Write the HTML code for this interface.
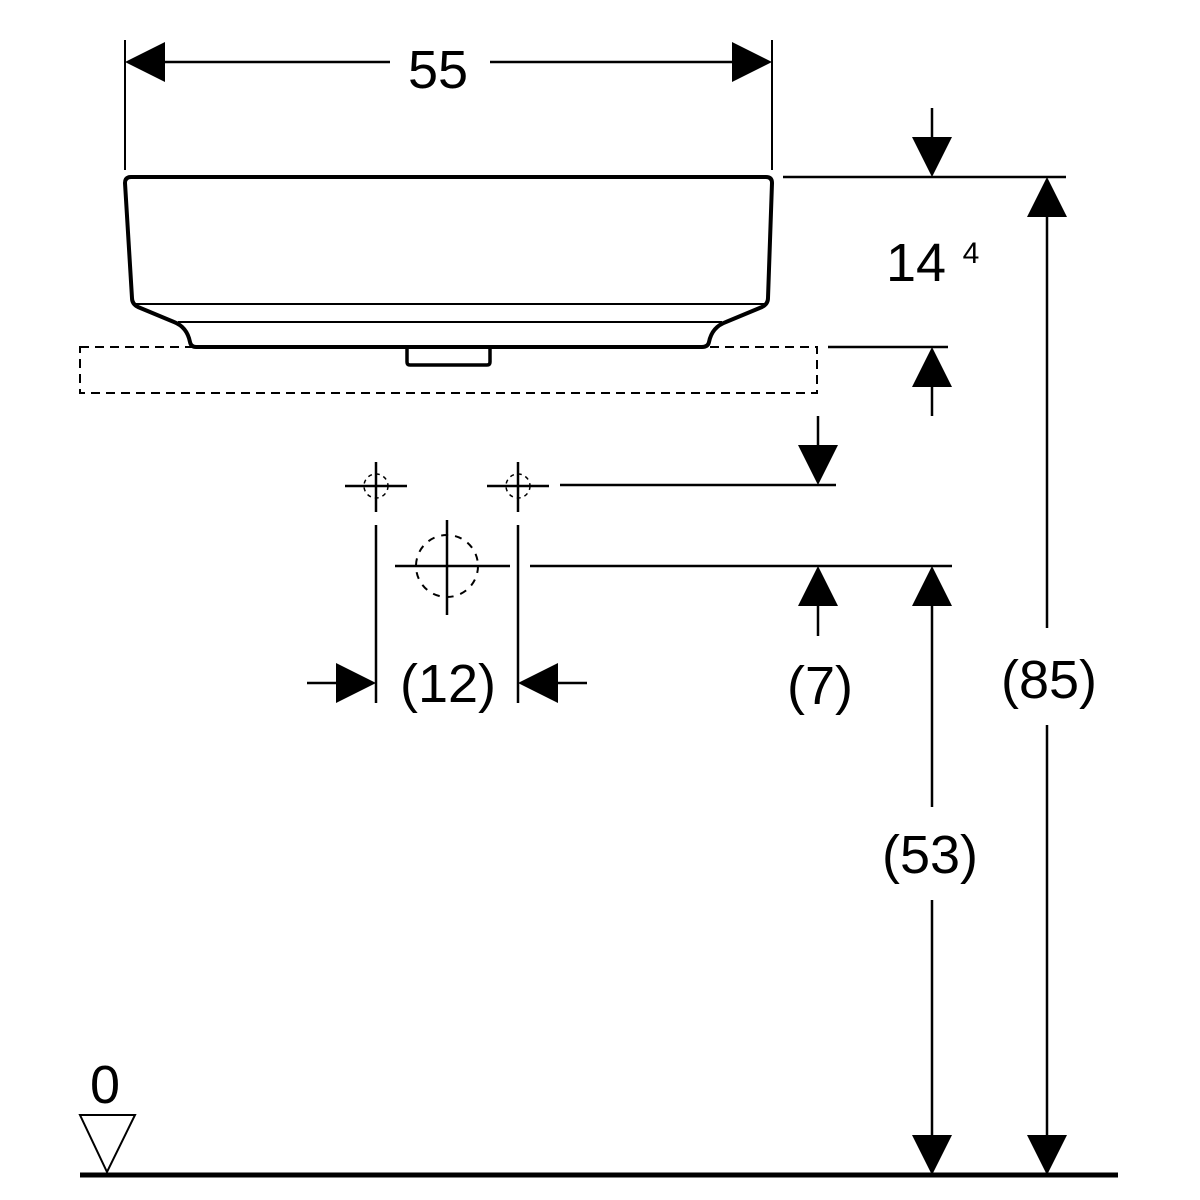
<!DOCTYPE html>
<html><head><meta charset="utf-8"><style>html,body{margin:0;padding:0;background:#fff}svg{display:block}</style></head>
<body>
<svg width="1200" height="1200" viewBox="0 0 1200 1200" xmlns="http://www.w3.org/2000/svg" font-family="Liberation Sans, Arial, sans-serif">
<g stroke="#000" fill="none" stroke-width="2.5">
<!-- basin -->
<path d="M131,177 L766,177 Q772,177 772,183 L768,298 Q768,304 762,307 L726,322 Q712,327 709,342 Q708,347 702,347 L196,347 Q191,347 190,342 Q187,327 174,322 L138,307 Q132,304 132,298 L125,183 Q125,177 131,177 Z" stroke-width="4"/>
<line x1="134" y1="304" x2="766" y2="304" stroke-width="2"/>
<line x1="178" y1="322" x2="722" y2="322" stroke-width="2"/>
<path d="M407,348 L407,362 Q407,365 410,365 L487,365 Q490,365 490,362 L490,348" stroke-width="3.5"/>
<rect x="80" y="347" width="737" height="46" stroke-dasharray="9,6" stroke-width="2"/>
<!-- 55 dimension -->
<line x1="125" y1="40" x2="125" y2="170" stroke-width="2"/>
<line x1="772" y1="40" x2="772" y2="170" stroke-width="2"/>
<line x1="160" y1="62" x2="390" y2="62"/>
<line x1="490" y1="62" x2="735" y2="62"/>
<!-- right ext lines -->
<line x1="783" y1="177" x2="1066" y2="177"/>
<line x1="828" y1="347" x2="948" y2="347"/>
<line x1="932" y1="108" x2="932" y2="140"/>
<line x1="932" y1="385" x2="932" y2="416"/>
<line x1="818" y1="416" x2="818" y2="448"/>
<line x1="560" y1="485" x2="836" y2="485"/>
<line x1="530" y1="566" x2="952" y2="566"/>
<line x1="818" y1="603" x2="818" y2="636"/>
<line x1="932" y1="603" x2="932" y2="807"/>
<line x1="932" y1="900" x2="932" y2="1140"/>
<line x1="1047" y1="214" x2="1047" y2="628"/>
<line x1="1047" y1="725" x2="1047" y2="1140"/>
<!-- holes -->
<line x1="345" y1="486" x2="407" y2="486"/>
<line x1="376" y1="462" x2="376" y2="512"/>
<circle cx="376" cy="486" r="12" stroke-width="1.5" stroke-dasharray="4,4"/>
<line x1="487" y1="486" x2="549" y2="486"/>
<line x1="518" y1="462" x2="518" y2="512"/>
<circle cx="518" cy="486" r="12" stroke-width="1.5" stroke-dasharray="4,4"/>
<line x1="376" y1="525" x2="376" y2="703"/>
<line x1="518" y1="525" x2="518" y2="703"/>
<line x1="395" y1="566" x2="510" y2="566"/>
<line x1="447" y1="520" x2="447" y2="615"/>
<circle cx="447" cy="566" r="31" stroke-width="2" stroke-dasharray="7,7"/>
<line x1="307" y1="683" x2="340" y2="683"/>
<line x1="555" y1="683" x2="587" y2="683"/>
<!-- ground -->
<line x1="80" y1="1175" x2="1118" y2="1175" stroke-width="5"/>
<path d="M80,1115 L135,1115 L107,1172 Z" stroke-width="2"/>
</g>
<g fill="#000">
<path d="M125,62 L165,42 L165,82 Z"/>
<path d="M772,62 L732,42 L732,82 Z"/>
<path d="M932,177 L912,137 L952,137 Z"/>
<path d="M932,347 L912,387 L952,387 Z"/>
<path d="M818,485 L798,445 L838,445 Z"/>
<path d="M818,566 L798,606 L838,606 Z"/>
<path d="M932,566 L912,606 L952,606 Z"/>
<path d="M932,1175 L912,1135 L952,1135 Z"/>
<path d="M1047,177 L1027,217 L1067,217 Z"/>
<path d="M1047,1175 L1027,1135 L1067,1135 Z"/>
<path d="M376,683 L336,663 L336,703 Z"/>
<path d="M518,683 L558,663 L558,703 Z"/>
</g>
<g fill="#000" font-size="54" text-anchor="middle">
<text x="438" y="88">55</text>
<text x="916" y="281">14</text>
<text x="971" y="263" font-size="30">4</text>
<text x="448" y="702">(12)</text>
<text x="820" y="704">(7)</text>
<text x="1049" y="698">(85)</text>
<text x="930" y="873">(53)</text>
<text x="105" y="1103">0</text>
</g>
</svg>
</body></html>
